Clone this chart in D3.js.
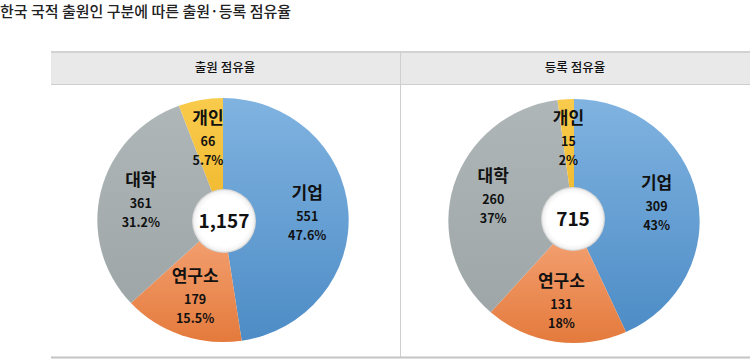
<!DOCTYPE html>
<html>
<head>
<meta charset="utf-8">
<script src="https://cdn.jsdelivr.net/npm/d3@7"></script>
<style>
    body { margin: 0; background: #fff; }
    svg { display: block; font-family: "Noto Sans CJK KR", sans-serif; }
    .title { font-size: 15px; fill: #222; font-weight: 500; }
    .head { font-size: 12.5px; fill: #111; font-weight: 500; }
    .cat { font-size: 17px; font-weight: 700; fill: #111; }
    .val { font-size: 12.5px; font-weight: 700; fill: #111; }
    .total { font-size: 19px; font-weight: 700; fill: #111; }
</style>
</head>
<body>
<script>
    // data
    const categories = ["기업", "연구소", "대학", "개인"];
    const applValues = [551, 179, 361, 66];
    const applPct = ["47.6%", "15.5%", "31.2%", "5.7%"];
    const regValues = [309, 131, 260, 15];
    const regPct = ["43%", "18%", "37%", "2%"];
    const panelTitles = ["출원 점유율", "등록 점유율"];

    const width = 750;
    const height = 359;

    const svg = d3.select("body")
        .append("svg")
        .attr("width", width)
        .attr("height", height);

    // slice colours (top -> bottom gradient)
    const colors = {
        "기업": ["#80b3e0", "#4d8cc6"],
        "연구소": ["#f5a679", "#e47a3c"],
        "대학": ["#aeb6b8", "#9ea6a8"],
        "개인": ["#f9cb4c", "#f0b72c"]
    };

    const defs = svg.append("defs");
    categories.forEach(function (c, i) {
        const g = defs.append("linearGradient")
            .attr("id", "grad" + i)
            .attr("x1", "0%").attr("x2", "0%")
            .attr("y1", "0%").attr("y2", "100%");
        g.append("stop").attr("offset", "0%").attr("stop-color", colors[c][0]);
        g.append("stop").attr("offset", "100%").attr("stop-color", colors[c][1]);
    });
    const shadow = defs.append("radialGradient").attr("id", "holeShadow");
    shadow.append("stop").attr("offset", "80%").attr("stop-color", "#fff");
    shadow.append("stop").attr("offset", "93%").attr("stop-color", "#f4f4f4");
    shadow.append("stop").attr("offset", "100%").attr("stop-color", "#cfcfcf");

    // title
    svg.append("text")
        .attr("class", "title")
        .attr("x", 0)
        .attr("y", 17)
        .text("한국 국적 출원인 구분에 따른 출원·등록 점유율");

    // header band
    svg.append("rect")
        .attr("x", 51).attr("y", 51)
        .attr("width", width - 51).attr("height", 34)
        .attr("fill", "#e9e9e9");
    svg.append("line")
        .attr("x1", 51).attr("x2", width)
        .attr("y1", 52).attr("y2", 52)
        .attr("stroke", "#d2d2d2").attr("stroke-width", 2);
    svg.append("line")
        .attr("x1", 51).attr("x2", width)
        .attr("y1", 84.5).attr("y2", 84.5)
        .attr("stroke", "#cdcdcd").attr("stroke-width", 1);
    svg.append("line")
        .attr("x1", 400.5).attr("x2", 400.5)
        .attr("y1", 51).attr("y2", 358)
        .attr("stroke", "#cfcfcf").attr("stroke-width", 1);
    svg.append("line")
        .attr("x1", 51).attr("x2", width)
        .attr("y1", 357.5).attr("y2", 357.5)
        .attr("stroke", "#c4c4c4").attr("stroke-width", 2);

    const panels = [
        { cx: 223, cy: 220, values: applValues, pct: applPct, total: "1,157", hx: 224, hy: 221 },
        { cx: 574, cy: 221, values: regValues, pct: regPct, total: "715", hx: 573, hy: 219 }
    ];
    const headX = [225, 575];

    panelTitles.forEach(function (t, i) {
        svg.append("text")
            .attr("class", "head")
            .attr("x", headX[i])
            .attr("y", 72)
            .attr("text-anchor", "middle")
            .text(t);
    });

    const radius = 122;
    const sx = 1.03;
    const pie = d3.pie().sort(null).value(function (d) { return d; });
    const arc = d3.arc().innerRadius(0).outerRadius(radius);
    const labelArc = d3.arc().innerRadius(82).outerRadius(82);

    panels.forEach(function (p) {
        const arcs = pie(p.values);

        const g = svg.append("g")
            .attr("transform", "translate(" + p.cx + "," + p.cy + ") scale(" + sx + ",1)");

        g.selectAll("path")
            .data(arcs)
            .enter()
            .append("path")
            .attr("d", arc)
            .attr("fill", function (d, i) { return "url(#grad" + i + ")"; });

        // white hole
        svg.append("circle")
            .attr("cx", p.hx)
            .attr("cy", p.hy)
            .attr("r", 32)
            .attr("fill", "url(#holeShadow)");

        svg.append("text")
            .attr("class", "total")
            .attr("x", p.hx)
            .attr("y", p.hy + 7)
            .attr("text-anchor", "middle")
            .text(p.total);

        // labels
        arcs.forEach(function (d, i) {
            const c = labelArc.centroid(d);
            const x = p.cx + c[0] * sx;
            const y = p.cy + c[1];
            const t = svg.append("text").attr("text-anchor", "middle");
            t.append("tspan").attr("class", "cat").attr("x", x).attr("y", y - 15).text(categories[i]);
            t.append("tspan").attr("class", "val").attr("x", x).attr("y", y + 7).text(p.values[i]);
            t.append("tspan").attr("class", "val").attr("x", x).attr("y", y + 26).text(p.pct[i]);
        });
    });
</script>
</body>
</html>
